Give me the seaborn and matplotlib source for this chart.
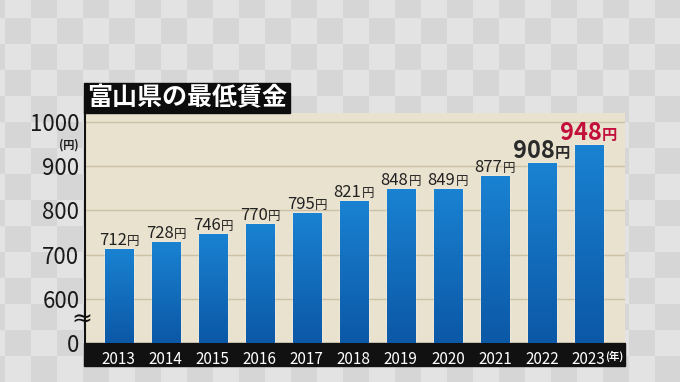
import numpy as np
import pandas as pd
import seaborn as sns
import matplotlib.pyplot as plt
from matplotlib.patches import Rectangle
from matplotlib.colors import ListedColormap, LinearSegmentedColormap
from matplotlib.offsetbox import TextArea, HPacker, AnnotationBbox

years = ["2013", "2014", "2015", "2016", "2017", "2018", "2019", "2020", "2021", "2022", "2023"]
wages = [712, 728, 746, 770, 795, 821, 848, 849, 877, 908, 948]
ytick_vals = [500, 600, 700, 800, 900, 1000]   # 500 is drawn as "0" (broken axis)
ytick_labels = ["0", "600", "700", "800", "900", "1000"]
title = "富山県の最低賃金"

sns.set_theme(style="white")
plt.rcParams['font.family'] = ['Noto Sans CJK JP', 'DejaVu Sans']

fig = plt.figure(figsize=(6.8, 3.82), dpi=100)

# grey checkerboard background, in pixel coords
bg = fig.add_axes([0, 0, 1, 1], zorder=-10)
nx, ny = 28, 17
checker = np.indices((ny, nx)).sum(axis=0) % 2
bg.imshow(checker, cmap=ListedColormap(['#d6d6d6', '#e3e3e3']),
          extent=(-21, -21 + 26 * nx, -8 + 26 * ny, -8), origin='upper',
          aspect='auto', interpolation='nearest')
bg.set_xlim(0, 680)
bg.set_ylim(382, 0)
bg.axis('off')

# main plot area
ax = fig.add_axes([85 / 680, 1 - 343 / 382, 540 / 680, 230 / 382])
ax.set_facecolor('#e9e2ce')
df = pd.DataFrame({'year': years, 'wage': wages})
sns.barplot(data=df, x='year', y='wage', color='#1272c4', saturation=1,
            width=0.6, ax=ax, zorder=3)

# vertical gradient on every bar
grad = np.linspace(0, 1, 256).reshape(-1, 1)
bar_cmap = LinearSegmentedColormap.from_list('bar', ['#0b58a6', '#1a82d2'])
for p in list(ax.patches):
    x, w, h = p.get_x(), p.get_width(), p.get_height()
    im = ax.imshow(grad, cmap=bar_cmap, extent=(x, x + w, 500, p.get_y() + h),
                   origin='lower', aspect='auto', zorder=4)
    im.set_clip_path(p)
ax.set_ylim(500, 1020)
ax.set_xlim(-0.72, 10.77)

ax.set_yticks(ytick_vals, ytick_labels)
ax.yaxis.grid(True, color='#cbc1a6', lw=1)
ax.set_axisbelow(True)
ax.tick_params(axis='y', length=0, pad=4, labelsize=16, labelcolor='#1a1a1a')
ax.set_xticks(range(len(years)), years)
ax.tick_params(axis='x', length=0, pad=6, labelsize=11, labelcolor='white')
ax.set_xlabel('')
ax.set_ylabel('')
for s in ['top', 'right', 'bottom']:
    ax.spines[s].set_visible(False)
ax.spines['left'].set_color('#111111')
ax.spines['left'].set_linewidth(1.5)

# black strip behind the year labels
ax.add_patch(Rectangle((-0.002, -0.1), 1.002, 0.1, transform=ax.transAxes,
                       color='#111111', clip_on=False, zorder=0.1))
ax.text(10.54, -0.06, '(年)', transform=ax.get_xaxis_transform(), ha='center',
        va='center', fontsize=7.5, color='white', fontweight='bold')

# unit and axis break
ax.text(-0.012, 948, '(円)', transform=ax.get_yaxis_transform(), ha='right',
        va='center', fontsize=8, fontweight='bold', color='#1a1a1a')
ax.text(-0.006, 552, '≈', transform=ax.get_yaxis_transform(), ha='center',
        va='center', fontsize=18, color='#111111', family='DejaVu Sans')

# value labels above bars
for i, w in enumerate(wages):
    if i == len(wages) - 1:
        nsize, ysize, col, wt = 17, 11, '#c20f3c', 'bold'
    elif i == len(wages) - 2:
        nsize, ysize, col, wt = 17, 11, '#2b2b2b', 'bold'
    else:
        nsize, ysize, col, wt = 12, 9, '#222222', 'normal'
    num = TextArea(str(w), textprops=dict(fontsize=nsize, color=col, fontweight=wt))
    yen = TextArea('円', textprops=dict(fontsize=ysize, color=col, fontweight=wt))
    box = HPacker(children=[num, yen], align='baseline', pad=0, sep=0)
    ab = AnnotationBbox(box, (i, w), xybox=(0, 0), xycoords='data',
                        boxcoords='offset points', box_alignment=(0.5, 0),
                        frameon=False, pad=0, zorder=6)
    ax.add_artist(ab)

# title block
fig.add_artist(Rectangle((84 / 680, 1 - 113 / 382), 206 / 680, 30 / 382,
                         transform=fig.transFigure, color='#0d0d0d'))
fig.text(187 / 680, 1 - 98 / 382, title, ha='center', va='center',
         fontsize=18, fontweight='bold', color='white')

fig.savefig('out.png', dpi=100)
